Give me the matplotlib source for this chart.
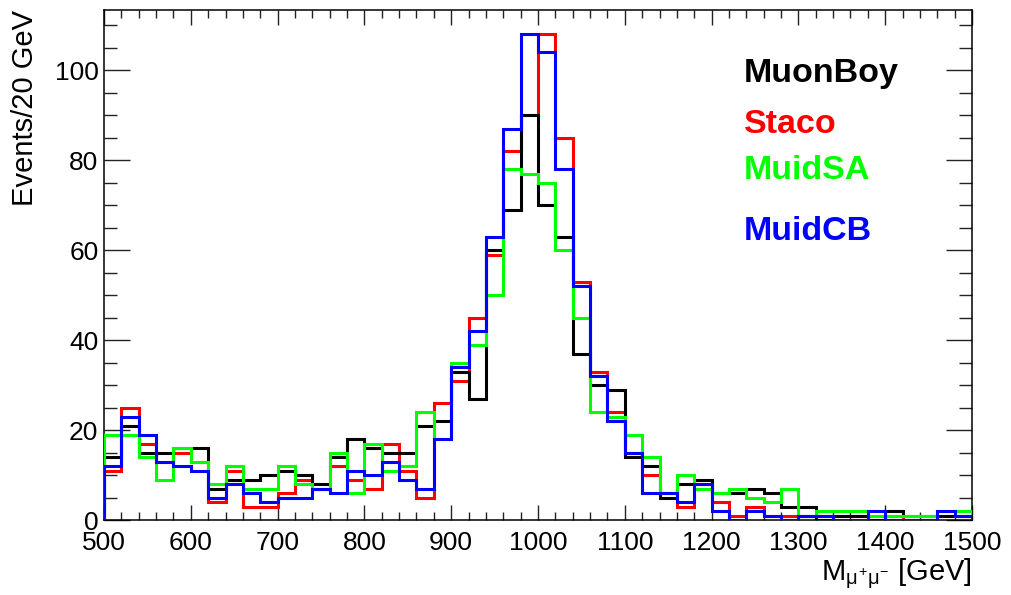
import numpy as np
import matplotlib
matplotlib.use("Agg")
import matplotlib.pyplot as plt
from matplotlib.ticker import MultipleLocator

plt.rcParams['font.family'] = ['Liberation Sans', 'DejaVu Sans']
plt.rcParams['mathtext.fontset'] = 'custom'
plt.rcParams['mathtext.rm'] = 'Liberation Sans'
plt.rcParams['mathtext.it'] = 'Liberation Sans'

# 20 GeV bins from 500 to 1500
edges = np.arange(500, 1501, 20)

muonboy = [14, 21, 15, 15, 16, 16, 7, 9, 9, 10,
           11, 10, 8, 14, 18, 16, 15, 15, 21, 22,
           33, 27, 60, 69, 90, 70, 63, 37, 30, 29,
           14, 12, 5, 8, 9, 6, 6, 7, 6, 3,
           3, 0, 1, 1, 0, 2, 1, 1, 1, 1]
staco = [11, 25, 17, 13, 15, 13, 4, 11, 3, 3,
         6, 9, 7, 12, 9, 7, 17, 11, 5, 26,
         31, 45, 59, 82, 90, 108, 85, 53, 33, 24,
         15, 10, 6, 3, 8, 4, 1, 3, 1, 1,
         1, 1, 1, 1, 0, 1, 0, 0, 1, 1]
muidsa = [19, 19, 14, 9, 16, 13, 8, 12, 7, 7,
          12, 8, 7, 15, 6, 17, 11, 12, 24, 18,
          35, 39, 50, 78, 77, 75, 60, 45, 24, 23,
          19, 14, 6, 10, 7, 6, 7, 5, 4, 7,
          1, 2, 2, 2, 1, 1, 1, 1, 2, 2]
muidcb = [12, 23, 19, 13, 12, 11, 5, 8, 6, 4,
          5, 5, 7, 6, 11, 10, 13, 9, 7, 18,
          34, 42, 63, 87, 108, 104, 78, 52, 32, 22,
          15, 6, 6, 4, 8, 2, 0, 2, 1, 0,
          1, 1, 0, 0, 2, 0, 0, 0, 2, 1]

names = ["MuonBoy", "Staco", "MuidSA", "MuidCB"]
colors = ["black", "#ff0000", "#00ff00", "#0000ff"]

fig = plt.figure(figsize=(10.12, 5.95), dpi=100)
ax = fig.add_axes([104/1012, 75/595, 868/1012, 510/595])

# draw order: Staco under MuonBoy under MuidSA under MuidCB
ax.stairs(staco, edges, color=colors[1], lw=2.2, zorder=2)
ax.stairs(muonboy, edges, color=colors[0], lw=2.2, zorder=3)
ax.stairs(muidsa, edges, color=colors[2], lw=2.2, zorder=4)
ax.stairs(muidcb, edges, color=colors[3], lw=2.2, zorder=5)

ax.set_xlim(500, 1500)
ax.set_ylim(0, 113.4)
ax.xaxis.set_major_locator(MultipleLocator(100))
ax.xaxis.set_minor_locator(MultipleLocator(20))
ax.yaxis.set_major_locator(MultipleLocator(20))
ax.yaxis.set_minor_locator(MultipleLocator(5))

ax.tick_params(axis='both', which='both', direction='in', top=True, right=True,
               labelsize=19, width=1.0, colors='#222222', labelcolor='black')
ax.tick_params(axis='x', which='major', length=11, pad=8)
ax.tick_params(axis='x', which='minor', length=5.5)
ax.tick_params(axis='y', which='major', length=19, pad=4)
ax.tick_params(axis='y', which='minor', length=9.5)
for sp in ax.spines.values():
    sp.set_linewidth(1.1)

fig.text(25/1012, 1 - 10/595, "Events/20 GeV", rotation=90, ha='center', va='top', fontsize=21)
fig.text(972/1012, 1 - 574/595, r"M$_{\mu^{+}\mu^{-}}$ [GeV]",
         ha='right', va='center', fontsize=21)

# legend labels drawn as coloured text
label_y = [82, 133, 179, 240]
for name, col, yb in zip(names, colors, label_y):
    fig.text(744/1012, 1 - yb/595, name, color=col, fontsize=24.5, fontweight='bold',
             ha='left', va='baseline')

fig.savefig("out.png", dpi=100)
